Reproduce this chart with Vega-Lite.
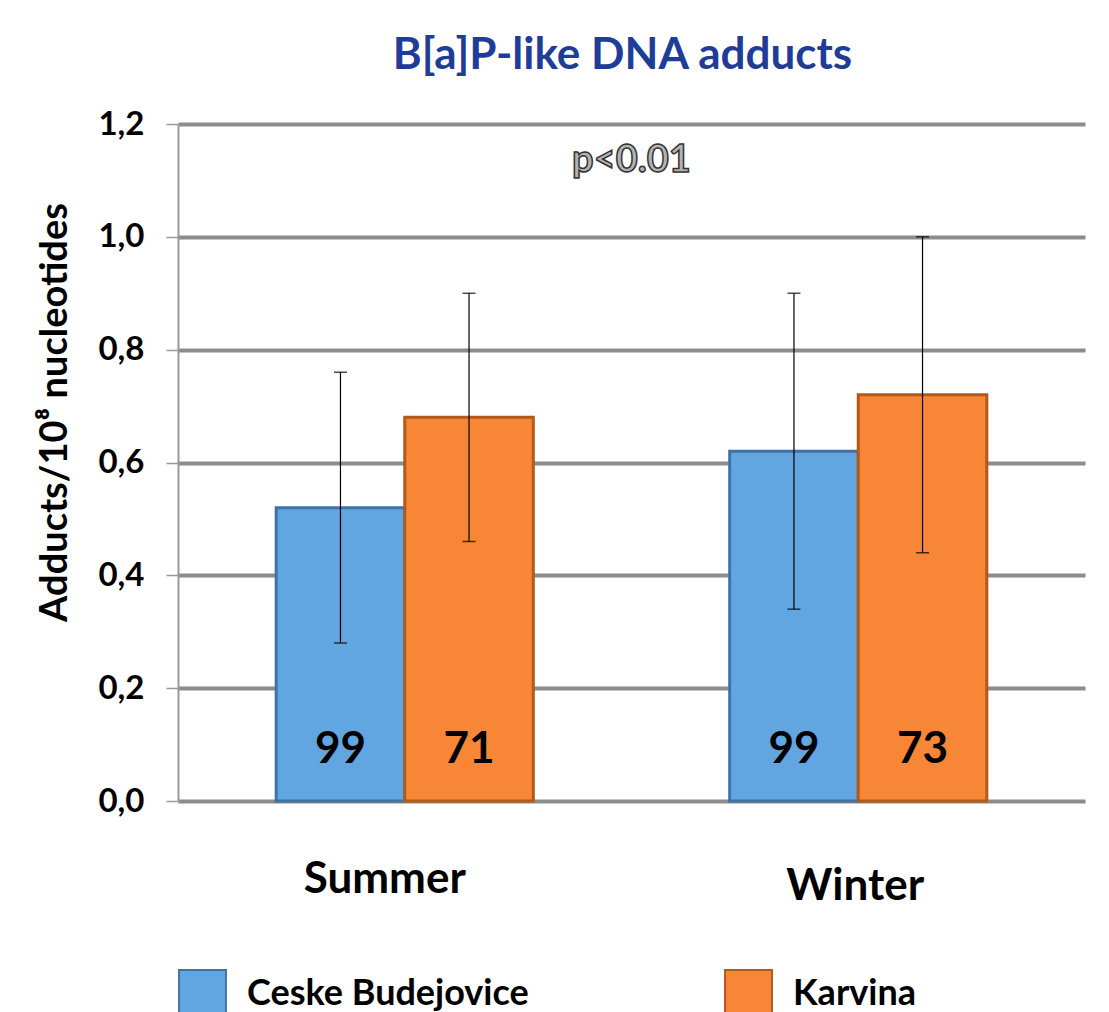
{
  "$schema": "https://vega.github.io/schema/vega-lite/v6.json",
  "autosize": {"type": "none"},
  "width": 907,
  "height": 677,
  "padding": {"left": 178, "top": 124, "right": 24, "bottom": 211},
  "background": "white",
  "config": {
    "font": "Lato",
    "view": {"stroke": null},
    "axis": {"labelFont": "Lato", "titleFont": "Lato"}
  },
  "title": {
    "text": "B[a]P-like DNA adducts",
    "font": "Lato",
    "fontSize": 44,
    "fontWeight": "bold",
    "color": "#1F3C99",
    "anchor": "middle",
    "offset": 30,
    "dx": -9
  },
  "data": {
    "values": [
      {"season": "Summer", "city": "Ceske Budejovice", "mean": 0.52, "low": 0.28, "high": 0.76, "n": 99},
      {"season": "Summer", "city": "Karvina", "mean": 0.68, "low": 0.46, "high": 0.90, "n": 71},
      {"season": "Winter", "city": "Ceske Budejovice", "mean": 0.62, "low": 0.34, "high": 0.90, "n": 99},
      {"season": "Winter", "city": "Karvina", "mean": 0.72, "low": 0.44, "high": 1.00, "n": 73}
    ]
  },
  "encoding": {
    "x": {
      "field": "season",
      "type": "nominal",
      "scale": {"paddingInner": 0.433, "paddingOuter": 0.2165},
      "axis": {
        "title": null,
        "domain": false,
        "ticks": false,
        "labelAngle": 0,
        "labelFontSize": 44,
        "labelFontWeight": "bold",
        "labelColor": "black",
        "labelPadding": {"condition": {"test": "datum.value == 'Summer'", "value": 56}, "value": 63},
        "labelOffset": {"condition": {"test": "datum.value == 'Summer'", "value": -20}, "value": -3}
      }
    },
    "xOffset": {"field": "city", "type": "nominal"}
  },
  "layer": [
    {
      "mark": {"type": "bar", "strokeWidth": 3},
      "encoding": {
        "y": {
          "field": "mean",
          "type": "quantitative",
          "scale": {"domain": [0, 1.2]},
          "axis": {
            "values": [0, 0.2, 0.4, 0.6, 0.8, 1.0, 1.2],
            "labelExpr": "replace(format(datum.value, '.1f'), '.', ',')",
            "labelFontSize": 33,
            "labelFontWeight": "bold",
            "labelColor": "black",
            "labelPadding": 22,
            "tickSize": 12,
            "tickColor": "#999999",
            "tickWidth": 1.5,
            "domainColor": "#999999",
            "domainWidth": 2,
            "grid": true,
            "gridColor": "#8C8C8C",
            "gridWidth": 4,
            "title": "Adducts/10⁸ nucleotides",
            "titleFontSize": 38,
            "titleFontWeight": "bold",
            "titleColor": "black",
            "titleX": -104,
            "titleY": 288
          }
        },
        "color": {
          "field": "city",
          "type": "nominal",
          "scale": {"domain": ["Ceske Budejovice", "Karvina"], "range": ["#62A6E1", "#F78737"]},
          "legend": {
            "title": null,
            "orient": "none",
            "direction": "horizontal",
            "legendX": 0,
            "legendY": 845,
            "symbolType": "square",
            "symbolSize": 2200,
            "symbolStrokeColor": "#41719C",
            "symbolStrokeWidth": 2,
            "symbolOpacity": 1,
            "labelFont": "Lato",
            "labelFontSize": 36,
            "labelFontWeight": "bold",
            "labelColor": "black",
            "labelOffset": 20,
            "labelLimit": 400,
            "columnPadding": 192
          }
        },
        "stroke": {
          "field": "city",
          "type": "nominal",
          "scale": {"domain": ["Ceske Budejovice", "Karvina"], "range": ["#3F73A6", "#B35A1A"]},
          "legend": null
        }
      }
    },
    {
      "mark": {"type": "rule", "color": "black", "strokeWidth": 1.2},
      "encoding": {
        "y": {"field": "low", "type": "quantitative"},
        "y2": {"field": "high"}
      }
    },
    {
      "mark": {"type": "tick", "color": "black", "size": 13, "thickness": 1.5, "orient": "horizontal"},
      "encoding": {"y": {"field": "low", "type": "quantitative"}}
    },
    {
      "mark": {"type": "tick", "color": "black", "size": 13, "thickness": 1.5, "orient": "horizontal"},
      "encoding": {"y": {"field": "high", "type": "quantitative"}}
    },
    {
      "mark": {"type": "text", "fontSize": 44, "fontWeight": "bold", "color": "black", "font": "Lato"},
      "encoding": {
        "y": {"datum": 0.09},
        "text": {"field": "n", "type": "quantitative"}
      }
    },
    {
      "data": {"values": [{"label": "p<0.01"}]},
      "mark": {
        "type": "text",
        "fontSize": 38,
        "fontWeight": "bold",
        "font": "Lato",
        "fill": "#B3B3B3",
        "stroke": "#333333",
        "strokeWidth": 1.5,
        "x": {"expr": "width/2"}
      },
      "encoding": {
        "x": null,
        "xOffset": null,
        "y": {"datum": 1.135},
        "text": {"field": "label", "type": "nominal"}
      }
    }
  ]
}
